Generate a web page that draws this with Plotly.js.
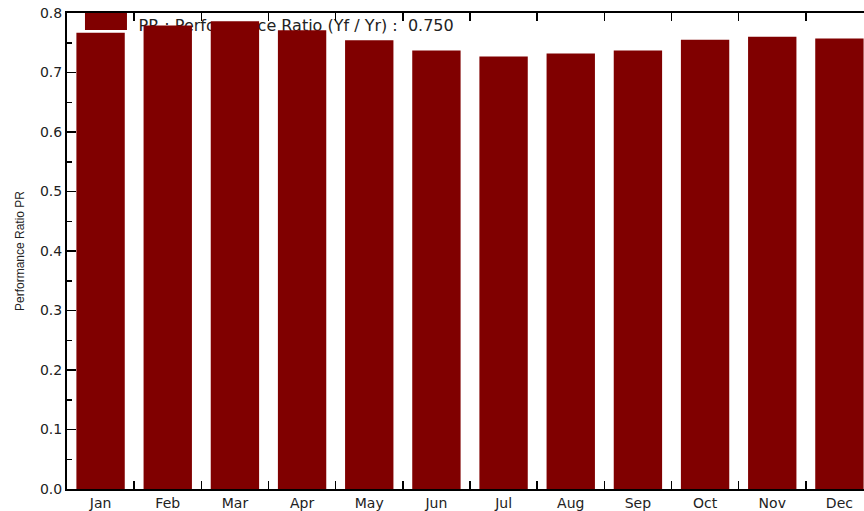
<!DOCTYPE html>
<html><head><meta charset="utf-8">
<script src="https://cdn.plot.ly/plotly-3.0.1.min.js"></script>
<style>html,body{margin:0;padding:0;overflow:hidden;background:#fff}#chart{width:900px;height:511px}</style>
</head><body><div id="chart"></div><script>
const months = ['Jan','Feb','Mar','Apr','May','Jun','Jul','Aug','Sep','Oct','Nov','Dec'];
const prValues = [0.767,0.779,0.786,0.771,0.754,0.737,0.727,0.732,0.737,0.755,0.760,0.757];
const legendLabel = 'PR : Performance Ratio (Yf / Yr) :  0.750';
const yTitle = 'Performance Ratio PR';
const yTickVals = [0,0.1,0.2,0.3,0.4,0.5,0.6,0.7,0.8];

const barColor = '#800000';
const textColor = '#222';
const tickFont = {family:'DejaVu Sans, Arial, sans-serif', size:14, color:textColor};

const trace = {
  type:'bar', x:months, y:prValues, width:0.72,
  marker:{color:barColor, line:{width:0}},
  hoverinfo:'skip', showlegend:false
};

const layout = {
  width:900, height:511,
  margin:{l:67, r:27, t:13, b:22, pad:0},
  paper_bgcolor:'#fff', plot_bgcolor:'#fff',
  showlegend:false,
  xaxis:{
    type:'category', range:[-0.5,11.5], fixedrange:true,
    showline:true, linewidth:2, linecolor:'#000', mirror:'ticks',
    ticks:'inside', tickson:'boundaries', ticklen:8, tickwidth:1.5, tickcolor:'#000',
    showgrid:false, zeroline:false, tickfont:tickFont
  },
  yaxis:{
    range:[0,0.8], tickvals:yTickVals, tickformat:'.1f', fixedrange:true,
    showline:true, linewidth:2, linecolor:'#000', mirror:'ticks',
    ticks:'inside', ticklen:9, tickwidth:1.5, tickcolor:'#000',
    minor:{dtick:0.05, ticks:'inside', ticklen:5, tickwidth:1.5, tickcolor:'#000', showgrid:false},
    showgrid:false, zeroline:false, tickfont:tickFont,
    title:{text:yTitle, standoff:13, font:{family:'Liberation Sans, Arial, sans-serif', size:12, color:textColor}}
  },
  shapes:[
    {type:'rect', xref:'paper', yref:'paper', x0:0.085, x1:0.75, y0:0.955, y1:0.995,
     line:{width:0}, fillcolor:'rgba(0,0,0,0)', layer:'below',
     label:{text:legendLabel, textposition:'middle left', padding:0,
            font:{family:'DejaVu Sans, Arial, sans-serif', size:16, color:textColor}}},
    {type:'rect', xref:'paper', yref:'paper', x0:0.0223, x1:0.0744, y0:0.9643, y1:1.0,
     line:{width:0}, fillcolor:barColor, layer:'above'}
  ]
};

Plotly.newPlot('chart',[trace],layout,{displayModeBar:false, staticPlot:true});
</script></body></html>
